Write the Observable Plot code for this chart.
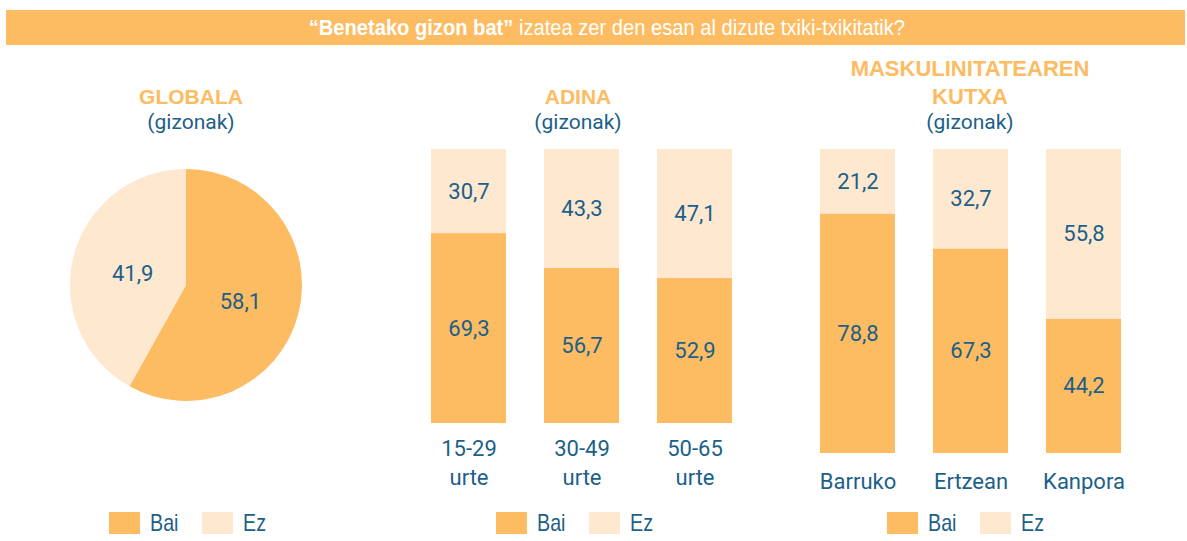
<!DOCTYPE html>
<html>
<head>
<meta charset="utf-8">
<script src="https://cdn.jsdelivr.net/npm/d3@7"></script>
<script src="https://cdn.jsdelivr.net/npm/@observablehq/plot@0.6"></script>
<style>
  html, body { margin: 0; padding: 0; background: #fff; }
  #root { position: relative; width: 1187px; height: 541px; overflow: hidden; font-family: Roboto, "Liberation Sans", sans-serif; }
  .abs { position: absolute; }
  .narrow { font-family: "Liberation Sans Narrow", "Liberation Sans", sans-serif; display: inline-block; transform-origin: 50% 50%; }
  .ptitle { position: absolute; text-align: center; color: #FDBB62; font-weight: bold; font-family: "Liberation Sans", Arial, sans-serif; font-size: 21px; line-height: 28px; }
  .psub { position: absolute; text-align: center; color: #1c5f88; font-family: Roboto, sans-serif; font-size: 21px; line-height: 26px; }
  .legitem { position: absolute; display: flex; align-items: center; height: 22px; }
  .sw { width: 31px; height: 22px; margin-right: 10px; }
  .legtxt { color: #1c5f88; font-size: 24px; line-height: 22px; transform: scaleX(0.82); transform-origin: 0 50%; }
</style>
</head>
<body>
<div id="root"></div>
<script>
// ---- data ----
const keys = ["Bai", "Ez"];
const globalValues = [58.1, 41.9];
const ageCategories = ["15-29 urte", "30-49 urte", "50-65 urte"];
const ageTickLabels = ["15-29\nurte", "30-49\nurte", "50-65\nurte"];
const ageBai = [69.3, 56.7, 52.9];
const ageEz = [30.7, 43.3, 47.1];
const boxCategories = ["Barruko", "Ertzean", "Kanpora"];
const boxTickLabels = ["Barruko", "Ertzean", "Kanpora"];
const boxBai = [78.8, 67.3, 44.2];
const boxEz = [21.2, 32.7, 55.8];

// ---- styles ----
const orange = "#FDBB62", light = "#FEE8D0", blue = "#1c5f88";
const colors = [orange, light];
const fmt = v => v.toFixed(1).replace(".", ",");
const root = document.getElementById("root");

function place(node, left, top) {
  const d = document.createElement("div");
  d.className = "abs";
  d.style.left = left + "px";
  d.style.top = top + "px";
  d.appendChild(node);
  root.appendChild(d);
  return d;
}

// ---- title bar ----
const bar = document.createElement("div");
bar.className = "abs";
Object.assign(bar.style, {left: "6px", top: "10px", width: "1179px", height: "35px", background: orange});
root.appendChild(bar);
const ttl = document.createElement("div");
ttl.className = "abs";
Object.assign(ttl.style, {left: "0px", top: "10px", width: "1214px", height: "35px", lineHeight: "35px", textAlign: "center", color: "#fff", whiteSpace: "nowrap"});
ttl.innerHTML = '<span class="narrow" style="font-size:22px;transform:scaleX(0.915)"><b>“Benetako gizon bat”</b> izatea zer den esan al dizute txiki-txikitatik?</span>';
root.appendChild(ttl);

// ---- panel titles ----
function panelTitle(lines, sub, cx, top, fs) {
  const t = document.createElement("div");
  t.className = "ptitle";
  Object.assign(t.style, {left: (cx - 200) + "px", width: "400px", top: top + "px", fontSize: fs + "px"});
  t.innerHTML = lines.join("<br>");
  root.appendChild(t);
  const s = document.createElement("div");
  s.className = "psub";
  Object.assign(s.style, {left: (cx - 200) + "px", width: "400px", top: "109px"});
  s.textContent = sub;
  root.appendChild(s);
}
panelTitle(["GLOBALA"], "(gizonak)", 191, 83, 21);
panelTitle(["ADINA"], "(gizonak)", 578, 83, 21);
panelTitle(["MASKULINITATEAREN", "KUTXA"], "(gizonak)", 970, 55, 22);

// ---- legends ----
function legend(left) {
  keys.forEach((k, i) => {
    const it = document.createElement("div");
    it.className = "legitem";
    it.style.left = (left + i * 93) + "px";
    it.style.top = "512px";
    it.innerHTML = `<div class="sw" style="background:${colors[i]}"></div><span class="legtxt narrow">${k}</span>`;
    root.appendChild(it);
  });
}
legend(109);
legend(496);
legend(887);

// ---- pie ----
const pieRows = d3.pie().sort(null)(globalValues).map((a, i) => ({
  key: keys[i], value: globalValues[i], startAngle: a.startAngle, endAngle: a.endAngle,
  mid: (a.startAngle + a.endAngle) / 2
}));
const pie = Plot.plot({
  width: 232, height: 232, margin: 0,
  x: {domain: [-1, 1], axis: null},
  y: {domain: [-1, 1], axis: null},
  color: {domain: keys, range: colors},
  style: {fontFamily: "Roboto, sans-serif", overflow: "visible", background: "transparent"},
  marks: [
    (index, scales) => {
      const sx = scales.x, sy = scales.y;
      const cx = sx(0), cy = sy(0), r = sx(1) - sx(0);
      const g = d3.create("svg:g").attr("transform", `translate(${cx},${cy})`);
      const arc = d3.arc().innerRadius(0).outerRadius(r);
      g.selectAll("path").data(pieRows).join("path")
        .attr("d", arc)
        .attr("fill", d => scales.color(d.key));
      return g.node();
    },
    Plot.text(pieRows, {
      x: d => Math.sin(d.mid) * 0.48,
      y: d => Math.cos(d.mid) * 0.48,
      dy: 2,
      text: d => fmt(d.value), fill: blue, fontSize: 22
    })
  ]
});
place(pie, 70, 169);

// ---- stacked bars ----
function rowsOf(cats, bai, ez) {
  const rows = [];
  cats.forEach((c, i) => {
    rows.push({cat: c, key: keys[0], value: bai[i], y1: 0, y2: bai[i], mid: bai[i] / 2});
    rows.push({cat: c, key: keys[1], value: ez[i], y1: bai[i], y2: bai[i] + ez[i], mid: bai[i] + ez[i] / 2});
  });
  return rows;
}
function barChart(cats, labels, bai, ez, innerH, labelDy) {
  const rows = rowsOf(cats, bai, ez);
  return Plot.plot({
    width: 342, height: innerH + 80,
    marginTop: 0, marginBottom: 80, marginLeft: 20, marginRight: 20,
    x: {domain: cats, paddingInner: 0.336, paddingOuter: 0, axis: null},
    y: {domain: [0, 100], axis: null},
    color: {domain: keys, range: colors},
    style: {fontFamily: "Roboto, sans-serif", overflow: "visible", background: "transparent"},
    marks: [
      Plot.barY(rows, {x: "cat", y1: "y1", y2: "y2", fill: "key"}),
      Plot.text(rows, {x: "cat", y: "mid", text: d => fmt(d.value), fill: blue, fontSize: 22}),
      Plot.text(cats, {x: d => d, frameAnchor: "bottom", dy: labelDy, text: (d, i) => labels[i],
        lineAnchor: "middle", lineHeight: 1.32, fill: blue, fontSize: 22})
    ]
  });
}
place(barChart(ageCategories, ageTickLabels, ageBai, ageEz, 274, 38), 411, 149);
place(barChart(boxCategories, boxTickLabels, boxBai, boxEz, 304, 26), 800, 149);
</script>
</body>
</html>
